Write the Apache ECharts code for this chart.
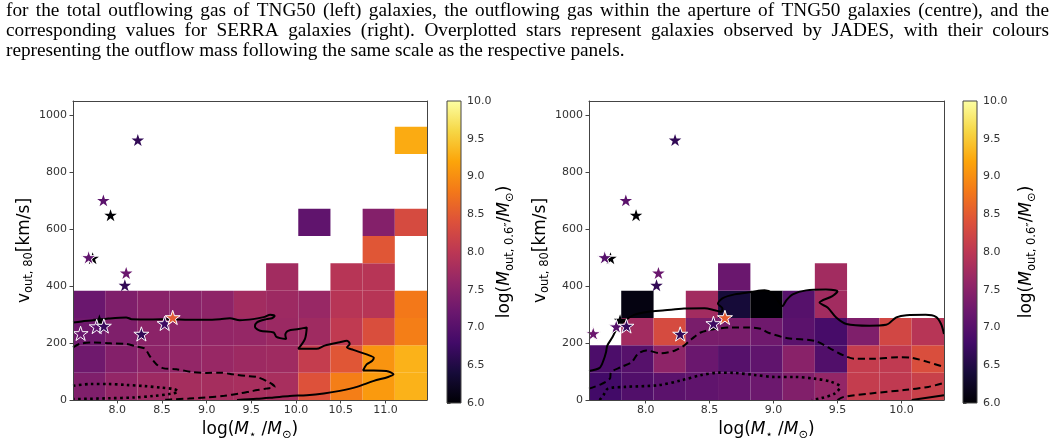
<!DOCTYPE html>
<html><head><meta charset="utf-8">
<script src="https://cdn.jsdelivr.net/npm/echarts@6/dist/echarts.min.js"></script>
<style>html,body{margin:0;padding:0;background:#fff}#c{width:1056px;height:446px}</style>
</head><body><div id="c"></div>
<script>
// ---------------- text ----------------
const captionLines = [
  "for the total outflowing gas of TNG50 (left) galaxies, the outflowing gas within the aperture of TNG50 galaxies (centre), and the",
  "corresponding values for SERRA galaxies (right). Overplotted stars represent galaxies observed by JADES, with their colours",
  "representing the outflow mass following the same scale as the respective panels."
];
// ---------------- ticks ----------------
const leftMassTicks = [8.0, 8.5, 9.0, 9.5, 10.0, 10.5, 11.0];
const rightMassTicks = [8.0, 8.5, 9.0, 9.5, 10.0];
const velTicks = [0, 200, 400, 600, 800, 1000];
// ---------------- bin edges ----------------
const vEdges = [0, 96, 192, 288, 384, 480, 576, 672, 768, 864, 960];
const leftMassEdges = [7.505, 7.865, 8.225, 8.585, 8.945, 9.305, 9.665, 10.025, 10.385, 10.745, 11.105, 11.465];
const rightMassEdges = [7.557, 7.809, 8.062, 8.314, 8.566, 8.819, 9.071, 9.323, 9.575, 9.828, 10.080, 10.333];
// ---------------- cells: [massBin, velBin, log M_out] ----------------
const leftCells = [
  [0,0,7.4],[1,0,7.6],[2,0,7.7],[3,0,7.78],[4,0,7.78],[5,0,7.8],[6,0,7.8],[7,0,8.4],[8,0,8.85],[9,0,9.1],[10,0,9.3],
  [0,1,7.25],[1,1,7.45],[2,1,7.55],[3,1,7.6],[4,1,7.65],[5,1,7.7],[6,1,7.72],[7,1,8.1],[8,1,8.45],[9,1,9.05],[10,1,9.3],
  [0,2,7.25],[1,2,7.4],[2,2,7.52],[3,2,7.55],[4,2,7.6],[5,2,7.62],[6,2,7.68],[7,2,7.72],[8,2,8.05],[9,2,8.35],[10,2,8.85],
  [0,3,7.2],[1,3,7.4],[2,3,7.5],[3,3,7.5],[4,3,7.55],[5,3,7.75],[6,3,7.7],[7,3,7.65],[8,3,7.95],[9,3,7.95],[10,3,8.8],
  [6,4,7.75],[8,4,7.95],[9,4,7.95],
  [9,5,8.45],
  [7,6,7.1],[9,6,7.45],[10,6,8.3],
  [10,9,9.25]
];
const rightCells = [
  [0,0,6.8],[1,0,6.95],[2,0,7.05],[3,0,7.1],[4,0,7.15],[5,0,7.22],[6,0,7.42],[7,0,7.6],[8,0,8.1],[9,0,8.05],[10,0,8.15],
  [0,1,6.9],[1,1,7.0],[2,1,7.55],[3,1,7.2],[4,1,7.0],[5,1,7.1],[6,1,7.5],[7,1,6.95],[8,1,8.1],[9,1,8.05],[10,1,8.35],
  [1,2,7.75],[2,2,8.3],[3,2,7.35],[4,2,7.35],[5,2,7.25],[6,2,7.05],[7,2,6.85],[8,2,7.4],[9,2,8.25],[10,2,7.95],
  [1,3,6.1],[3,3,7.75],[4,3,6.4],[5,3,6.0],[6,3,7.0],[7,3,7.75],
  [4,4,7.2],[7,4,7.75]
];
// ---------------- JADES stars ----------------
const starMass  = [8.23, 7.845, 7.925, 7.68, 7.725, 8.10, 8.085, 7.59, 7.80, 7.77, 7.85, 8.27, 8.53, 8.62];
const starVel   = [913, 701, 649, 501, 498, 446, 403, 234, 280, 258, 260, 232, 269, 290];
const starLeft  = [6.65, 7.05, 6.0, 7.1, 6.0, 7.2, 6.65, 7.2, 6.0, 7.05, 6.7, 6.65, 6.75, 8.5];
const starRight = [6.65, 7.05, 6.0, 7.0, 6.0, 7.2, 6.65, 7.2, 6.0, 7.0, 6.7, 6.65, 6.75, 8.5];
const starEdged = [0, 0, 0, 1, 0, 0, 0, 1, 0, 1, 1, 1, 1, 1];
// ---------------- contours ----------------
const leftSolid = [[7.505,272],[7.6,276],[7.73,280],[7.9,286],[8.1,290],[8.16,284],[8.4,283],[8.59,284],[8.8,282],[9.0,282],[9.15,284],[9.26,287],[9.37,280],[9.52,284],[9.65,292],[9.71,299],[9.76,295],[9.73,287],[9.67,284],[9.56,272],[9.54,257],[9.60,243],[9.75,237],[9.78,222],[9.89,214],[9.88,229],[9.91,243],[10.03,249],[10.12,255],[10.1,215],[10.025,180],[10.23,180],[10.32,191],[10.49,203],[10.57,208],[10.60,197],[10.57,185],[10.64,176],[10.79,160],[10.87,148],[10.85,137],[10.79,125],[10.75,104],[10.87,104],[11.01,102],[11.09,90],[11.03,81],[10.87,67],[10.68,46],[10.49,32],[10.31,23],[10.12,17],[9.93,14],[9.75,9],[9.56,4],[9.34,0]];
const leftDashed = [[7.505,185],[7.58,197],[7.73,202],[7.92,199],[8.10,197],[8.21,188],[8.31,180],[8.36,156],[8.44,125],[8.51,112],[8.66,108],[8.85,98],[9.0,95],[9.15,96],[9.30,90],[9.48,83],[9.56,81],[9.71,60],[9.76,46],[9.67,40],[9.52,32],[9.37,23],[9.2,15],[9.0,9],[8.8,5],[8.6,2],[8.5,0]];
const leftDotted = [[7.505,50],[7.7,56],[7.9,56],[8.1,53],[8.3,49],[8.5,43],[8.64,38],[8.68,30],[8.6,22],[8.4,14],[8.2,9],[7.9,6],[7.505,3]];
const rightSolid = [[7.557,102],[7.64,113],[7.67,139],[7.69,168],[7.70,191],[7.74,220],[7.78,255],[7.835,278],[7.91,299],[8.02,310],[8.15,315],[8.30,321],[8.46,322],[8.54,315],[8.59,310],[8.60,322],[8.565,338],[8.60,357],[8.695,371],[8.825,379],[8.93,385],[8.99,375],[9.04,345],[9.07,330],[9.1,350],[9.15,371],[9.255,385],[9.41,388],[9.50,382],[9.46,365],[9.36,342],[9.425,324],[9.49,290],[9.57,267],[9.75,261],[9.88,264],[9.96,290],[10.04,298],[10.19,299],[10.27,292],[10.31,267],[10.333,232]];
const rightDashed = [[7.557,40],[7.65,55],[7.72,75],[7.73,98],[7.81,116],[7.89,133],[7.94,162],[8.005,174],[8.12,164],[8.23,174],[8.30,191],[8.36,214],[8.43,237],[8.54,249],[8.67,255],[8.80,255],[8.9,250],[8.96,236],[9.11,217],[9.32,208],[9.45,179],[9.55,156],[9.63,145],[9.79,145],[9.97,150],[10.08,148],[10.21,133],[10.333,116]];
const rightDotted = [[7.64,0],[7.67,17],[7.705,40],[7.84,46],[8.10,52],[8.28,69],[8.43,87],[8.57,96],[8.695,95],[8.85,88],[9.01,81],[9.16,81],[9.32,75],[9.45,64],[9.52,46],[9.48,23],[9.37,6],[9.3,0]];
const rightDashedLow = [[9.5,0],[9.55,11],[9.76,23],[10.02,35],[10.21,46],[10.333,60]];
const rightSolidLow = [[10.08,0],[10.333,17]];

// ---------------- styling ----------------
const INFERNO = ['#000004','#160b39','#420a68','#6a176e','#932667','#bc3754','#dd513a','#f37819','#fca50a','#f6d746','#fcffa4'];
const AX = '#444';
const TICKFONT = {fontFamily:'DejaVu Sans', fontSize:11, color:'#333'};
const STAR = 'path://M100,0 L122.45,69.1 L195.1,69.1 L136.3,111.8 L158.8,180.9 L100,138.2 L41.2,180.9 L63.7,111.8 L4.9,69.1 L77.55,69.1 Z';
const richName = {
  n:{fontFamily:'DejaVu Sans', fontSize:17, color:'#000', lineHeight:22, verticalAlign:'middle'},
  i:{fontFamily:'DejaVu Sans', fontStyle:'italic', fontSize:17, color:'#000', lineHeight:22, verticalAlign:'middle'},
  s:{fontFamily:'DejaVu Sans', fontSize:11.5, color:'#000', lineHeight:12, verticalAlign:'bottom'}
};
const massName = '{n|log(}{i|M}{s|\u22C6}{n| /}{i|M}{s|\u2299}{n|)}';
const velName = '{n|v}{s|out, 80}{n|[km/s]}';
const cbarName = '{n|log(}{i|M}{s|out, 0.6\u2033}{n|/}{i|M}{s|\u2299}{n|)}';

const chart = echarts.init(document.getElementById('c'));

function cellData(cells, xEdges) {
  return cells.map(c => [xEdges[c[0]], xEdges[c[0]+1], vEdges[c[1]], vEdges[c[1]+1], c[2]]);
}
function renderCell(params, api) {
  const p0 = api.coord([api.value(0), api.value(3)]);
  const p1 = api.coord([api.value(1), api.value(2)]);
  return {type:'rect', shape:{x:p0[0], y:p0[1], width:p1[0]-p0[0], height:p1[1]-p0[1]},
          style:{fill: api.visual('color')}};
}
function renderBar(params, api) {
  const p0 = api.coord([api.value(0), api.value(3)]);
  const p1 = api.coord([api.value(1), api.value(2)]);
  const stops = INFERNO.map((c, i) => ({offset: i/(INFERNO.length-1), color: c}));
  return {type:'rect', shape:{x:p0[0], y:p0[1], width:p1[0]-p0[0], height:p1[1]-p0[1]},
          style:{fill: new echarts.graphic.LinearGradient(0,1,0,0,stops), stroke:AX, lineWidth:1}};
}
function contour(data, idx, type, w) {
  return {type:'line', xAxisIndex:idx, yAxisIndex:idx, data:data, showSymbol:false, symbol:'none',
          smooth:0.3, clip:true, silent:true, z:4,
          lineStyle:{color:'#000', width:w || 2, type:type, cap:'butt'}};
}
function stars(valArr, edged, idx) {
  const d = [];
  for (let k = 0; k < starMass.length; k++) if (starEdged[k] === edged) d.push([starMass[k], starVel[k], valArr[k]]);
  return {type:'scatter', xAxisIndex:idx, yAxisIndex:idx, data:d, symbol:STAR, symbolKeepAspect:true,
          symbolSize: edged ? 15 : 12.5, z: edged ? 6 : 5, silent:true,
          itemStyle: edged ? {borderColor:'#fff', borderWidth:1, opacity:1} : {opacity:1}};
}
const DASH = [7,4], DOT = [2.6,3.4];

const series = [
  {type:'custom', xAxisIndex:0, yAxisIndex:0, data:cellData(leftCells, leftMassEdges), renderItem:renderCell, encode:{x:[0,1], y:[2,3]}, clip:true, z:2, silent:true},
  {type:'custom', xAxisIndex:2, yAxisIndex:2, data:cellData(rightCells, rightMassEdges), renderItem:renderCell, encode:{x:[0,1], y:[2,3]}, clip:true, z:2, silent:true},
  {type:'custom', xAxisIndex:4, yAxisIndex:4, data:[[0,1,6,10]], renderItem:renderBar, encode:{x:[0,1], y:[2,3]}, silent:true},
  {type:'custom', xAxisIndex:5, yAxisIndex:5, data:[[0,1,6,10]], renderItem:renderBar, encode:{x:[0,1], y:[2,3]}, silent:true},
  contour(leftSolid, 0, 'solid'), contour(leftDashed, 0, DASH), contour(leftDotted, 0, DOT, 2.6),
  contour(rightSolid, 2, 'solid'), contour(rightDashed, 2, DASH), contour(rightDotted, 2, DOT, 2.6),
  contour(rightDashedLow, 2, DASH), contour(rightSolidLow, 2, 'solid'),
  stars(starLeft, 0, 0), stars(starLeft, 1, 0), stars(starRight, 0, 2), stars(starRight, 1, 2)
];

function massAxis(grid, min, max, ticks) {
  return {type:'value', gridIndex:grid, min:min, max:max, position:'bottom', z:8,
    axisLine:{show:true, onZero:false, lineStyle:{color:AX, width:1}},
    axisTick:{show:true, length:3.5, customValues:ticks, lineStyle:{color:AX}},
    axisLabel:Object.assign({show:true, margin:5, customValues:ticks, formatter:v => v.toFixed(1)}, TICKFONT),
    splitLine:{show:false},
    name:massName, nameLocation:'middle', nameGap:19, nameTextStyle:{rich:richName}};
}
function frameAxisX(grid, min, max) {
  return {type:'value', gridIndex:grid, min:min, max:max, position:'top', z:8,
    axisLine:{show:true, onZero:false, lineStyle:{color:AX, width:1}}, axisTick:{show:false}, axisLabel:{show:false}, splitLine:{show:false}};
}
function velAxis(grid) {
  return {type:'value', gridIndex:grid, min:0, max:1050, position:'left', z:8,
    axisLine:{show:true, onZero:false, lineStyle:{color:AX, width:1}},
    axisTick:{show:true, length:3.5, customValues:velTicks, lineStyle:{color:AX}},
    axisLabel:Object.assign({show:true, margin:6, customValues:velTicks, formatter:v => String(Math.round(v))}, TICKFONT),
    splitLine:{show:false},
    name:velName, nameLocation:'middle', nameRotate:90, nameGap:36, nameTextStyle:{rich:richName}};
}
function frameAxisY(grid) {
  return {type:'value', gridIndex:grid, min:0, max:1050, position:'right', z:8,
    axisLine:{show:true, onZero:false, lineStyle:{color:AX, width:1}}, axisTick:{show:false}, axisLabel:{show:false}, splitLine:{show:false}};
}
function cbarAxis(grid, gap) {
  return {type:'value', gridIndex:grid, min:6, max:10, interval:0.5, position:'right',
    axisLine:{show:false}, axisTick:{show:true, length:3.5, lineStyle:{color:AX}},
    axisLabel:Object.assign({show:true, margin:6, formatter:v => v.toFixed(1)}, TICKFONT),
    splitLine:{show:false},
    name:cbarName, nameLocation:'middle', nameRotate:90, nameGap:gap, nameTextStyle:{rich:richName}};
}
function hiddenX(grid) { return {type:'value', gridIndex:grid, min:0, max:1, show:false}; }

// caption, justified
const capFontFamily = 'Liberation Serif';
const ctx = document.createElement('canvas').getContext('2d');
ctx.font = '100px "' + capFontFamily + '"';
const capLeft = 6, capRight = 1049;
const capSize = 100 * 619 / ctx.measureText(captionLines[2]).width;
ctx.font = capSize + 'px "' + capFontFamily + '"';
const capY = [11, 31, 51];
const graphics = [];
captionLines.forEach((line, li) => {
  const words = line.split(' ');
  const widths = words.map(w => ctx.measureText(w).width);
  const total = widths.reduce((a, b) => a + b, 0);
  const justify = li < captionLines.length - 1;
  const gap = justify ? (capRight - capLeft - total) / (words.length - 1) : ctx.measureText(' ').width;
  let x = capLeft;
  words.forEach((w, wi) => {
    graphics.push({type:'text', x:x, y:capY[li], silent:true,
      style:{text:w, fontFamily:capFontFamily, fontSize:capSize, fill:'#000', verticalAlign:'middle', align:'left'}});
    x += widths[wi] + gap;
  });
});

chart.setOption({
  animation:false,
  backgroundColor:'#fff',
  grid:[
    {left:73, top:101, width:354, height:302},
    {left:589, top:101, width:355, height:302},
    {left:447, top:101, width:14, height:302},
    {left:963, top:101, width:14, height:302}
  ],
  xAxis:[
    massAxis(0, leftMassEdges[0], leftMassEdges[leftMassEdges.length-1], leftMassTicks),
    frameAxisX(0, leftMassEdges[0], leftMassEdges[leftMassEdges.length-1]),
    massAxis(1, rightMassEdges[0], rightMassEdges[rightMassEdges.length-1], rightMassTicks),
    frameAxisX(1, rightMassEdges[0], rightMassEdges[rightMassEdges.length-1]),
    hiddenX(2), hiddenX(3)
  ],
  yAxis:[
    velAxis(0), frameAxisY(0), velAxis(1), frameAxisY(1), cbarAxis(2, 33), cbarAxis(3, 39)
  ],
  visualMap:[
    {type:'continuous', show:false, min:6, max:10, dimension:4, seriesIndex:[0,1], inRange:{color:INFERNO}},
    {type:'continuous', show:false, min:6, max:10, dimension:2, seriesIndex:[12,13,14,15], inRange:{color:INFERNO}}
  ],
  graphic:graphics,
  series:series
});
</script></body></html>
